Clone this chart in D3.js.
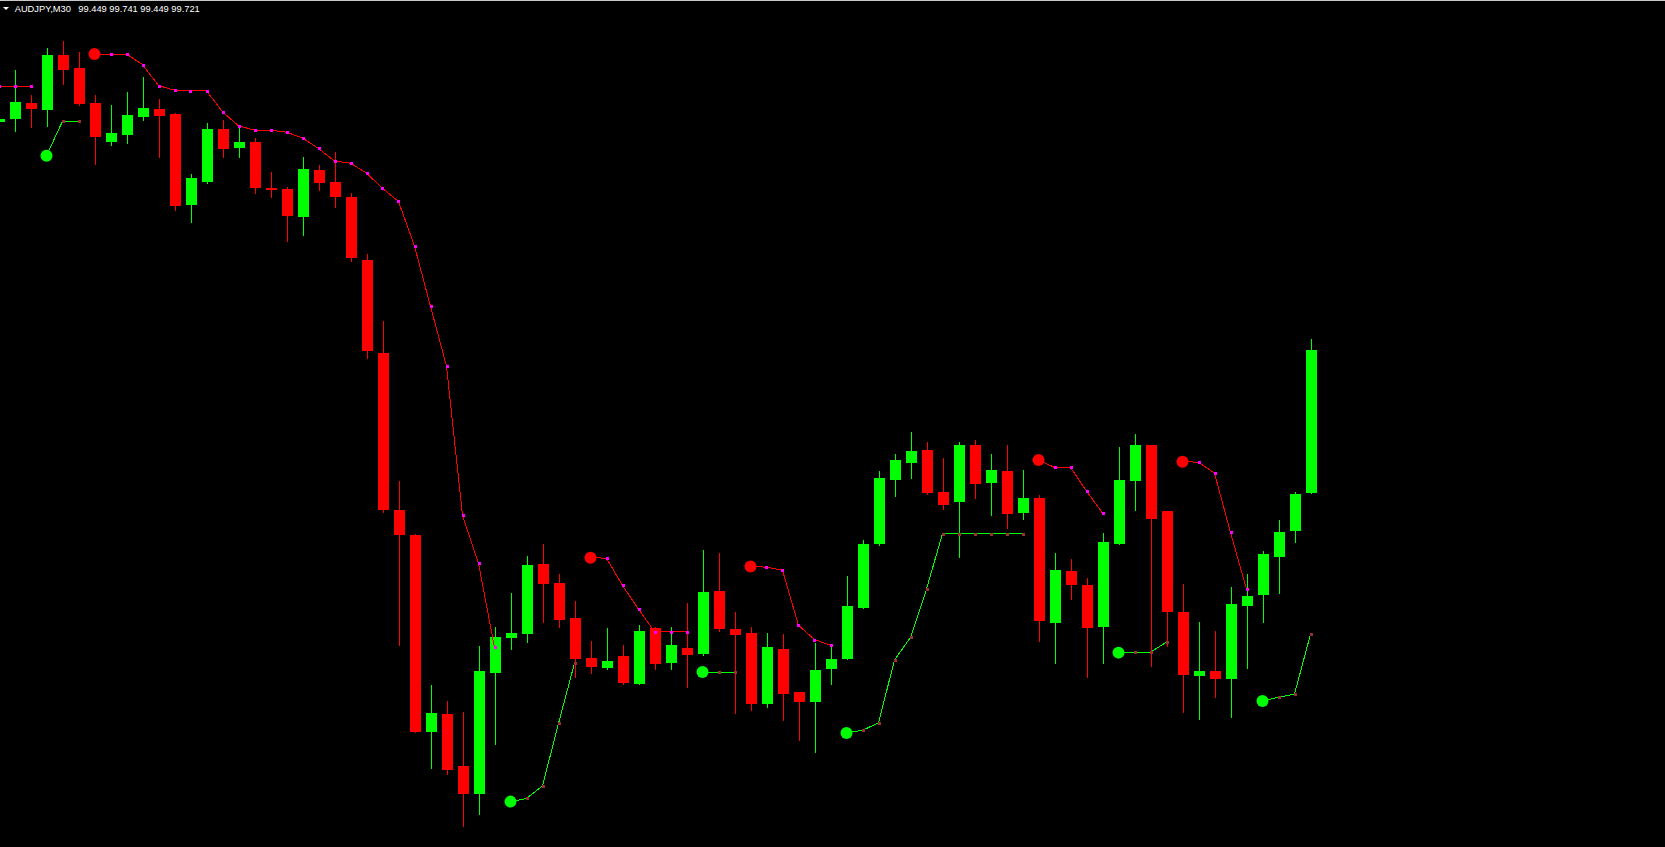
<!DOCTYPE html>
<html>
<head>
<meta charset="utf-8">
<script src="https://cdn.jsdelivr.net/npm/d3@7/dist/d3.min.js"></script>
<style>
  html, body { margin: 0; padding: 0; background: #000; overflow: hidden; }
  svg { display: block; }
</style>
</head>
<body>
<script>
// ---- DATA (AUDJPY, M30) ----
const symbolLabel = "AUDJPY,M30";
const quoteLabel = "99.449 99.741 99.449 99.721";
const _ = null;

const open = [100.156,100.162,100.192,100.179,100.283,100.258,100.192,100.118,100.131,100.165,100.180,100.171,99.997,100.041,100.142,100.106,100.117,100.030,100.028,99.975,100.064,100.041,100.013,99.892,99.715,99.416,99.368,98.993,99.027,98.928,98.875,99.106,99.172,99.180,99.313,99.277,99.210,99.134,99.115,99.138,99.085,99.191,99.125,99.153,99.142,99.262,99.189,99.181,99.047,99.151,99.069,99.050,99.113,99.132,99.230,99.352,99.474,99.506,99.530,99.450,99.432,99.540,99.468,99.490,99.411,99.439,99.201,99.300,99.273,99.192,99.352,99.472,99.540,99.414,99.221,99.100,99.109,99.094,99.232,99.253,99.327,99.375,99.449];
const high = [100.165,100.255,100.207,100.297,100.309,100.288,100.207,100.188,100.213,100.241,100.199,100.173,100.056,100.154,100.159,100.150,100.125,100.060,100.032,100.089,100.074,100.098,100.021,99.904,99.776,99.471,99.370,99.082,99.052,99.031,99.157,99.193,99.258,99.328,99.351,99.294,99.242,99.166,99.191,99.159,99.197,99.193,99.193,99.239,99.340,99.334,99.221,99.193,99.181,99.180,99.069,99.162,99.155,99.290,99.359,99.490,99.523,99.565,99.546,99.515,99.546,99.549,99.523,99.540,99.492,99.444,99.334,99.322,99.286,99.372,99.536,99.561,99.540,99.414,99.275,99.202,99.185,99.269,99.294,99.338,99.397,99.450,99.741];
const low = [100.152,100.139,100.145,100.148,100.228,100.188,100.076,100.112,100.116,100.159,100.089,99.988,99.964,100.039,100.089,100.089,100.021,100.013,99.929,99.940,100.026,99.994,99.891,99.706,99.413,99.159,98.992,98.925,98.913,98.814,98.837,98.970,99.150,99.165,99.203,99.192,99.098,99.106,99.113,99.085,99.085,99.113,99.113,99.079,99.140,99.186,99.028,99.035,99.041,99.016,98.978,98.955,99.085,99.131,99.230,99.350,99.443,99.476,99.447,99.418,99.327,99.439,99.407,99.382,99.399,99.167,99.125,99.247,99.098,99.125,99.352,99.415,99.119,99.157,99.031,99.018,99.060,99.022,99.115,99.203,99.258,99.354,99.449];
const close = [100.162,100.194,100.180,100.283,100.255,100.190,100.126,100.134,100.169,100.183,100.167,99.995,100.049,100.142,100.104,100.117,100.030,100.025,99.977,100.066,100.039,100.013,99.897,99.718,99.416,99.368,98.993,99.029,98.921,98.875,99.109,99.174,99.181,99.311,99.275,99.207,99.131,99.117,99.128,99.087,99.185,99.123,99.159,99.140,99.260,99.189,99.178,99.047,99.155,99.066,99.050,99.111,99.132,99.233,99.351,99.477,99.511,99.528,99.449,99.426,99.540,99.466,99.492,99.409,99.439,99.205,99.302,99.273,99.190,99.355,99.473,99.540,99.399,99.222,99.102,99.109,99.094,99.237,99.252,99.332,99.374,99.446,99.721];

// trailing stop (upper, bearish) line
const upperLine = [100.224,100.224,100.224, _,_,_,
  100.285,100.285,100.285,100.265,100.225,100.216,100.215,100.215,100.175,100.148,100.140,100.140,100.136,100.125,100.105,100.081,100.077,100.058,100.029,100.004,99.919,99.804,99.690,99.406,99.314,99.154,
  _,_,_,_,_,
  99.325,99.324,99.272,99.227,99.184,99.184,99.184,
  _,_,_,
  99.308,99.307,99.301,99.196,99.169,99.158,
  _,_,_,_,_,_,_,_,_,_,_,_,
  99.511,99.497,99.497,99.452,99.410,
  _,_,_,_,
  99.508,99.507,99.486,99.373,99.265,
  _,_,_,_];

// trailing stop (lower, bullish) line
const lowerLine = [_,_,_,
  100.091,100.157,100.157,
  _,_,_,_,_,_,_,_,_,_,_,_,_,_,_,_,_,_,_,_,_,_,_,_,_,_,
  98.860,98.866,98.890,99.009,99.124,
  _,_,_,_,_,_,_,
  99.107,99.107,99.107,
  _,_,_,_,_,_,
  98.991,98.996,99.010,99.130,99.173,99.265,99.371,99.371,99.371,99.371,99.371,99.371,
  _,_,_,_,_,
  99.144,99.145,99.145,99.164,
  _,_,_,_,_,
  99.052,99.059,99.065,99.179];

// ---- CHART ----
const W = 1665, H = 847;
const bars = d3.range(open.length);

const svg = d3.select("body").append("svg")
  .attr("width", W).attr("height", H)
  .style("background", "#000");

const x = d3.scaleLinear().domain([0, bars.length - 1]).range([-0.5, -0.5 + 16 * (bars.length - 1)]);
const y = d3.scaleLinear().domain([98.7735, 100.388]).range([H, 0]);

const BULL = "#00ff00", BEAR = "#ff0000";

// candles
const g = svg.append("g").attr("shape-rendering", "crispEdges");
g.selectAll("line.wick").data(bars).join("line")
  .attr("class", "wick")
  .attr("x1", i => x(i)).attr("x2", i => x(i))
  .attr("y1", i => Math.round(y(high[i]))).attr("y2", i => Math.round(y(low[i])) + 1)
  .attr("stroke", i => close[i] >= open[i] ? BULL : BEAR)
  .attr("stroke-width", 1);

g.selectAll("rect.body").data(bars).join("rect")
  .attr("class", "body")
  .attr("x", i => x(i) - 5.5)
  .attr("width", 11)
  .attr("y", i => Math.round(y(Math.max(open[i], close[i]))))
  .attr("height", i => Math.max(1, Math.round(y(Math.min(open[i], close[i]))) - Math.round(y(Math.max(open[i], close[i])))))
  .attr("fill", i => close[i] >= open[i] ? BULL : BEAR);

// indicator lines
function drawTrail(values, lineColor, dotColor) {
  const lg = svg.append("g");
  const line = d3.line()
    .defined(i => values[i] != null)
    .x(i => x(i) - 1)
    .y(i => y(values[i]));
  lg.append("path")
    .attr("d", line(bars))
    .attr("fill", "none")
    .attr("stroke", lineColor)
    .attr("stroke-width", 1)
    .attr("shape-rendering", "crispEdges");
  const pts = bars.filter(i => values[i] != null);
  lg.selectAll("rect.dot").data(pts).join("rect")
    .attr("class", "dot")
    .attr("x", i => Math.round(x(i) - 1) - 1)
    .attr("y", i => Math.round(y(values[i])) - 1)
    .attr("width", 3).attr("height", 3)
    .attr("fill", dotColor)
    .attr("shape-rendering", "crispEdges");
  const starts = pts.filter(i => i > 0 && values[i - 1] == null);
  lg.selectAll("circle.sig").data(starts).join("circle")
    .attr("class", "sig")
    .attr("cx", i => x(i) - 1)
    .attr("cy", i => y(values[i]))
    .attr("r", 6)
    .attr("fill", lineColor);
}
drawTrail(upperLine, BEAR, "#ff00ff");
drawTrail(lowerLine, BULL, "#993333");

// frame
svg.append("line").attr("x1", 0).attr("x2", W).attr("y1", 0.5).attr("y2", 0.5)
  .attr("stroke", "#c8c8c8").attr("stroke-width", 1);

// header
svg.append("path").attr("d", "M3,7 L9,7 L6,10 Z").attr("fill", "#fff");
svg.append("text").attr("x", 14.7).attr("y", 11.6)
  .attr("fill", "#fff").attr("font-family", "Liberation Sans, Arial, sans-serif")
  .attr("font-size", "9.3px").text(symbolLabel);
svg.append("text").attr("x", 78.3).attr("y", 11.6)
  .attr("fill", "#fff").attr("font-family", "Liberation Sans, Arial, sans-serif")
  .attr("font-size", "9.3px").text(quoteLabel);
</script>
</body>
</html>
